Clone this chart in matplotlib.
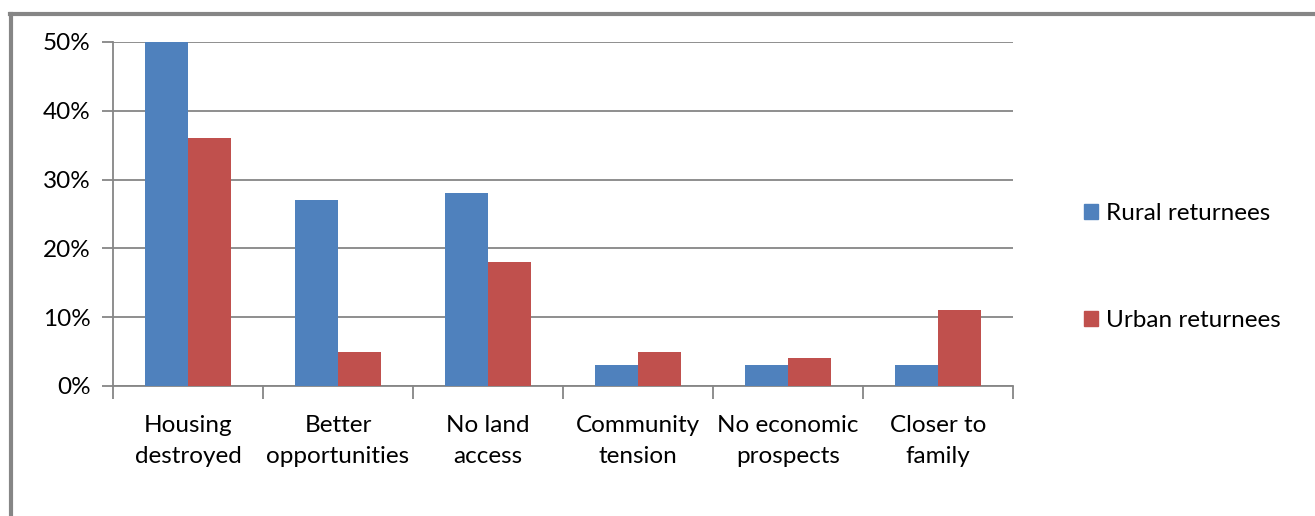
import numpy as np
import matplotlib.pyplot as plt
from matplotlib.patches import Patch
from matplotlib.ticker import PercentFormatter

plt.rcParams['font.family'] = ['Lato', 'DejaVu Sans']

categories = ['Housing\ndestroyed', 'Better\nopportunities', 'No land\naccess',
              'Community\ntension', 'No economic\nprospects', 'Closer to\nfamily']
rural = [50, 27, 28, 3, 3, 3]
urban = [36, 5, 18, 5, 4, 11]
series_names = ['Rural returnees', 'Urban returnees']

blue = '#4F81BD'
red = '#C0504D'
grey = '#868686'

fig = plt.figure(figsize=(13.15, 5.16), dpi=100)
ax = fig.add_axes([113 / 1315, 1 - 386 / 516, 900 / 1315, 344 / 516])

x = np.arange(len(categories))
w = 1 / 3.5
ax.bar(x - w / 2, rural, w, color=blue, zorder=3)
ax.bar(x + w / 2, urban, w, color=red, zorder=3)

ax.set_xlim(-0.5, len(categories) - 0.5)
ax.set_ylim(0, 50)
ax.set_yticks(range(0, 51, 10))
ax.yaxis.set_major_formatter(PercentFormatter(decimals=0))
ax.grid(axis='y', color=grey, linewidth=1.3, zorder=0)

# category labels sit between boundary ticks
ax.set_xticks(np.arange(len(categories) + 1) - 0.5)
ax.set_xticklabels([])
ax.set_xticks(x, minor=True)
ax.set_xticklabels(categories, minor=True, fontsize=17.5, linespacing=1.55)
ax.tick_params(axis='x', which='minor', length=0, pad=21)
ax.tick_params(axis='x', which='major', length=9, width=1.3, color=grey)
ax.tick_params(axis='y', length=8, width=1.3, color=grey, labelsize=17.5, pad=8)

for s in ['top', 'right']:
    ax.spines[s].set_visible(False)
for s in ['left', 'bottom']:
    ax.spines[s].set_color(grey)
    ax.spines[s].set_linewidth(1.3)

handles = [Patch(color=blue), Patch(color=red)]
fig.legend(handles, series_names, loc='center left', bbox_to_anchor=(1062 / 1315, 1 - 267 / 516),
           frameon=False, fontsize=17.5, handlelength=0.6, handleheight=0.6,
           handletextpad=0.3, labelspacing=3.55)

# chart area border, only top and left edges fall inside the image
fig.add_artist(plt.Line2D([11 / 1315, 11 / 1315], [0, 1 - 14 / 516], color=grey, linewidth=3,
                          transform=fig.transFigure))
fig.add_artist(plt.Line2D([10 / 1315, 1], [1 - 14 / 516, 1 - 14 / 516], color=grey, linewidth=3,
                          transform=fig.transFigure))

fig.savefig('out.png', dpi=100)
